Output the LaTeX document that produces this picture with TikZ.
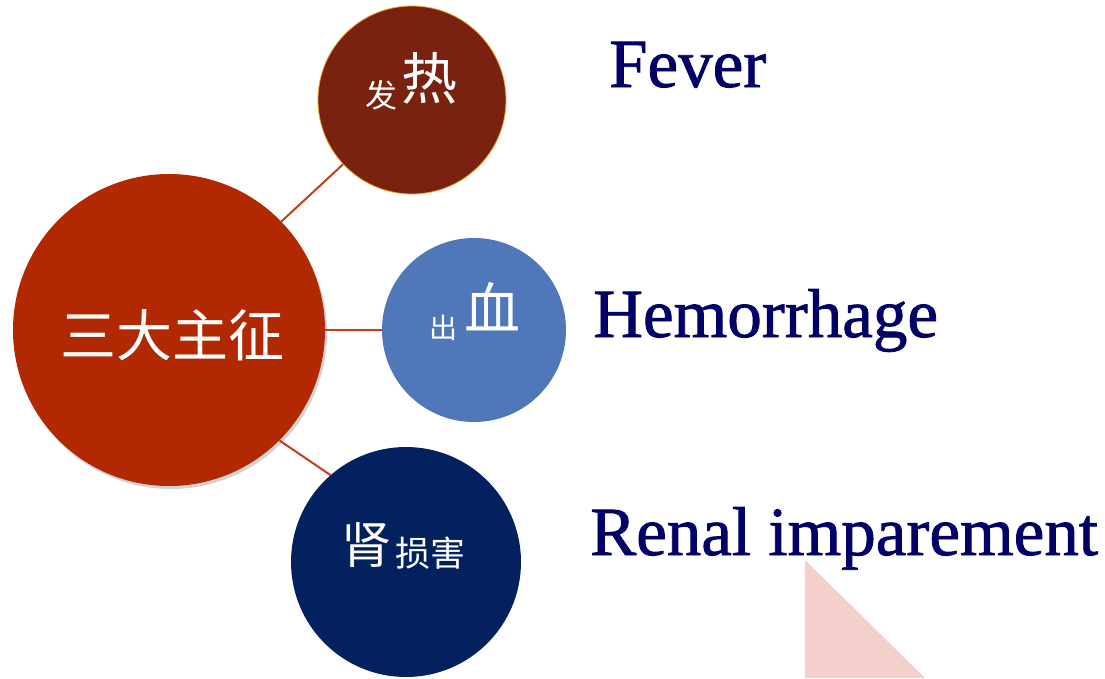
\documentclass[tikz,border=0pt]{standalone}
\usepackage{fontspec}
\setmainfont{Liberation Serif}
\newfontfamily\engfont[FakeBold=1.2]{Liberation Serif}
\newfontfamily\cjk{Noto Sans CJK SC}
\usetikzlibrary{shadows}
\definecolor{mainred}{HTML}{B22800}
\definecolor{feverc}{HTML}{7A2210}
\definecolor{bloodc}{HTML}{4F77BA}
\definecolor{renalc}{HTML}{03215F}
\definecolor{linkc}{HTML}{C0401A}
\definecolor{navytext}{HTML}{000066}
\definecolor{pinkc}{HTML}{F4D0CD}
\definecolor{rimc}{HTML}{F0A030}
\tikzset{
  bubble/.style={circle, inner sep=0pt},
  link/.style={draw=linkc, line width=2pt},
  engl/.style={anchor=base west, inner sep=0pt, text=navytext, font=\engfont\fontsize{69}{69}\selectfont},
  zh/.style={anchor=base west, inner sep=0pt, text=white},
}
\begin{document}
\begin{tikzpicture}[x=1pt,y=-1pt]
\useasboundingbox (0,0) rectangle (1105,678);
% pink triangle
\fill[pinkc] (805,560) -- (805,678) -- (925,678) -- cycle;
% circles
\node[bubble, fill=mainred, minimum size=312pt, drop shadow={opacity=0.35, shadow xshift=2pt, shadow yshift=-3pt}] (main) at (169,330) {};
\node[bubble, fill=feverc, draw=rimc, line width=0.8pt, minimum size=188pt] (fever) at (412,100) {};
\node[bubble, fill=bloodc, minimum size=184pt] (blood) at (474,330) {};
\node[bubble, fill=renalc, minimum size=230pt] (renal) at (406,562) {};
% connectors
\draw[link] (main.44) -- (fever.223);
\draw[link] (main.east) -- (blood.west);
\draw[link] (main.-45) -- (renal.131);
% Chinese labels
\node[zh, anchor=center, font=\cjk\fontsize{56}{56}\selectfont] (t0) at (172,335) {三大主征};
\node[zh, font=\cjk\fontsize{32}{32}\selectfont] (t1a) at (365,107) {发};
\node[zh, font=\cjk\fontsize{56}{56}\selectfont] (t1b) at (401,99) {热};
\node[zh, font=\cjk\fontsize{28}{28}\selectfont] (t2a) at (429,338) {出};
\node[zh, font=\cjk\fontsize{56}{56}\selectfont] (t2b) at (464,329) {血};
\node[zh, font=\cjk\fontsize{50}{50}\selectfont] (t3a) at (341,563) {肾};
\node[zh, font=\cjk\fontsize{35}{35}\selectfont] (t3b) at (395,566) {损害};
% English labels
\node[engl] (e1) at (609,87) {Fever};
\node[engl] (e2) at (593,337) {Hemorrhage};
\node[engl] (e3) at (590,555) {Renal imparement};
\end{tikzpicture}
\end{document}
